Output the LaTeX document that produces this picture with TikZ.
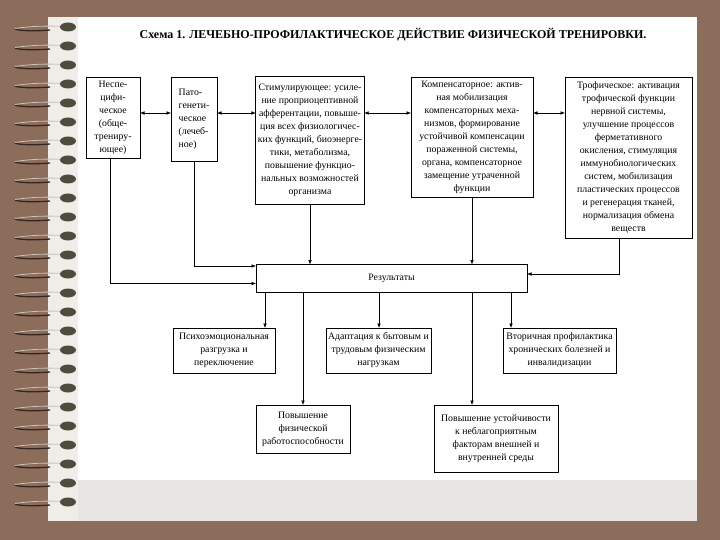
\documentclass[tikz,border=0pt]{standalone}
\usepackage{fontspec}
\setmainfont{Liberation Serif}
\usetikzlibrary{arrows.meta}
\definecolor{bgbrown}{RGB}{140,109,91}
\definecolor{stripgray}{RGB}{232,229,226}
\definecolor{leftgray}{RGB}{240,237,233}
\definecolor{ringdot}{RGB}{78,76,62}
\definecolor{wiredark}{RGB}{52,38,30}
\definecolor{wirelight}{RGB}{200,195,185}
\tikzset{
  box/.style={draw, line width=0.6pt, fill=white, align=center, inner sep=2pt, outer sep=0pt,
    font=\fontsize{9.8}{13}\selectfont},
  conn/.style={line width=0.6pt, -{Latex[length=4.5pt,width=3.6pt]}},
  dconn/.style={line width=0.6pt, {Latex[length=4.5pt,width=3.6pt]}-{Latex[length=4.5pt,width=3.6pt]}},
}
\begin{document}
\begin{tikzpicture}[x=1pt,y=-1pt]
\useasboundingbox (0,0) rectangle (720,540);
% page background
\fill[bgbrown] (0,0) rectangle (720,540);
\fill[white] (48,17) rectangle (697,521);
\fill[stripgray] (48,480) rectangle (697,521);
\fill[leftgray] (48,17) rectangle (78,521);
% spiral rings
\foreach \yy in {27,46,...,502} {
  \draw[wiredark, line width=1.3pt] (50,\yy+3) .. controls (32,\yy+4.5) and (14,\yy+3.5) .. (15,\yy+1.5);
  \draw[wirelight, line width=0.8pt] (15,\yy+1.5) .. controls (28,\yy-0.5) and (45,\yy-1.5) .. (62,\yy-0.5);
  \fill[ringdot] (68,\yy) ellipse (8 and 4.5);
}
% title
\node[font=\bfseries\fontsize{12}{14}\selectfont] (title) at (393,35)
  {Схема 1. ЛЕЧЕБНО-ПРОФИЛАКТИЧЕСКОЕ ДЕЙСТВИЕ ФИЗИЧЕСКОЙ ТРЕНИРОВКИ.};
% top boxes
\node[box, minimum width=54, minimum height=81] (b1) at (113,117.5)
  {Неспе-\\цифи-\\ческое\\(обще-\\трениру-\\ющее)};
\node[box, minimum width=46, minimum height=84, align=left] (b2) at (194,119)
  {Пато-\\генети-\\ческое\\(лечеб-\\ное)};
\node[box, minimum width=108, minimum height=128] (b3) at (310,140)
  {Стимулирующее: усиле-\\ние проприоцептивной\\афферентации, повыше-\\ция всех физиологичес-\\ких функций, биоэнерге-\\тики, метаболизма,\\повышение функцио-\\нальных возможностей\\организма};
\node[box, minimum width=122, minimum height=120] (b4) at (472,137)
  {Компенсаторное: актив-\\ная мобилизация\\компенсаторных меха-\\низмов, формирование\\устойчивой компенсации\\пораженной системы,\\органа, компенсаторное\\замещение утраченной\\функции};
\node[box, minimum width=127, minimum height=161] (b5) at (628.5,157.5)
  {Трофическое: активация\\трофической функции\\нервной системы,\\улучшение процессов\\ферметативного\\окисления, стимуляция\\иммунобиологических\\систем, мобилизация\\пластических процессов\\и регенерация тканей,\\нормализация обмена\\веществ};
% results
\node[box, minimum width=271, minimum height=28] (res) at (391.5,278.5) {Результаты};
% second row
\node[box, minimum width=102, minimum height=45] (psy) at (224,350.5)
  {Психоэмоциональная\\разгрузка и\\переключение};
\node[box, minimum width=103, minimum height=45] (adapt) at (378.5,350.5)
  {Адаптация к бытовым и\\трудовым физическим\\нагрузкам};
\node[box, minimum width=113, minimum height=45] (vtor) at (559.5,350.5)
  {Вторичная профилактика\\хронических болезней и\\инвалидизации};
% third row
\node[box, minimum width=94, minimum height=48] (pova) at (303,429)
  {Повышение\\физической\\работоспособности};
\node[box, minimum width=124, minimum height=67] (povb) at (496,438.5)
  {Повышение устойчивости\\к неблагоприятным\\факторам внешней и\\внутренней среды};
% helper coordinates
\coordinate (x1) at (110,0);
\coordinate (y1) at (0,283.5);
\coordinate (y2) at (0,266);
\coordinate (y5) at (0,274);
\coordinate (ya) at (0,113);
\coordinate (x5) at (619,0);
\coordinate (xr1) at (265,0);
\coordinate (xr2) at (303,0);
\coordinate (xr3) at (379,0);
\coordinate (xr4) at (472,0);
\coordinate (xr5) at (511,0);
% double arrows between top boxes
\draw[dconn] (b1.east |- ya) -- (b2.west |- ya);
\draw[dconn] (b2.east |- ya) -- (b3.west |- ya);
\draw[dconn] (b3.east |- ya) -- (b4.west |- ya);
\draw[dconn] (b4.east |- ya) -- (b5.west |- ya);
% top boxes to results
\draw[conn] (b1.south -| x1) |- (res.west |- y1);
\draw[conn] (b2.south) |- (res.west |- y2);
\draw[conn] (b3.south) -- (b3.south |- res.north);
\draw[conn] (b4.south) -- (b4.south |- res.north);
\draw[conn] (b5.south -| x5) |- (res.east |- y5);
% results to outcomes
\draw[conn] (res.south -| xr1) -- (psy.north -| xr1);
\draw[conn] (res.south -| xr2) -- (pova.north -| xr2);
\draw[conn] (res.south -| xr3) -- (adapt.north -| xr3);
\draw[conn] (res.south -| xr4) -- (povb.north -| xr4);
\draw[conn] (res.south -| xr5) -- (vtor.north -| xr5);
\end{tikzpicture}
\end{document}
